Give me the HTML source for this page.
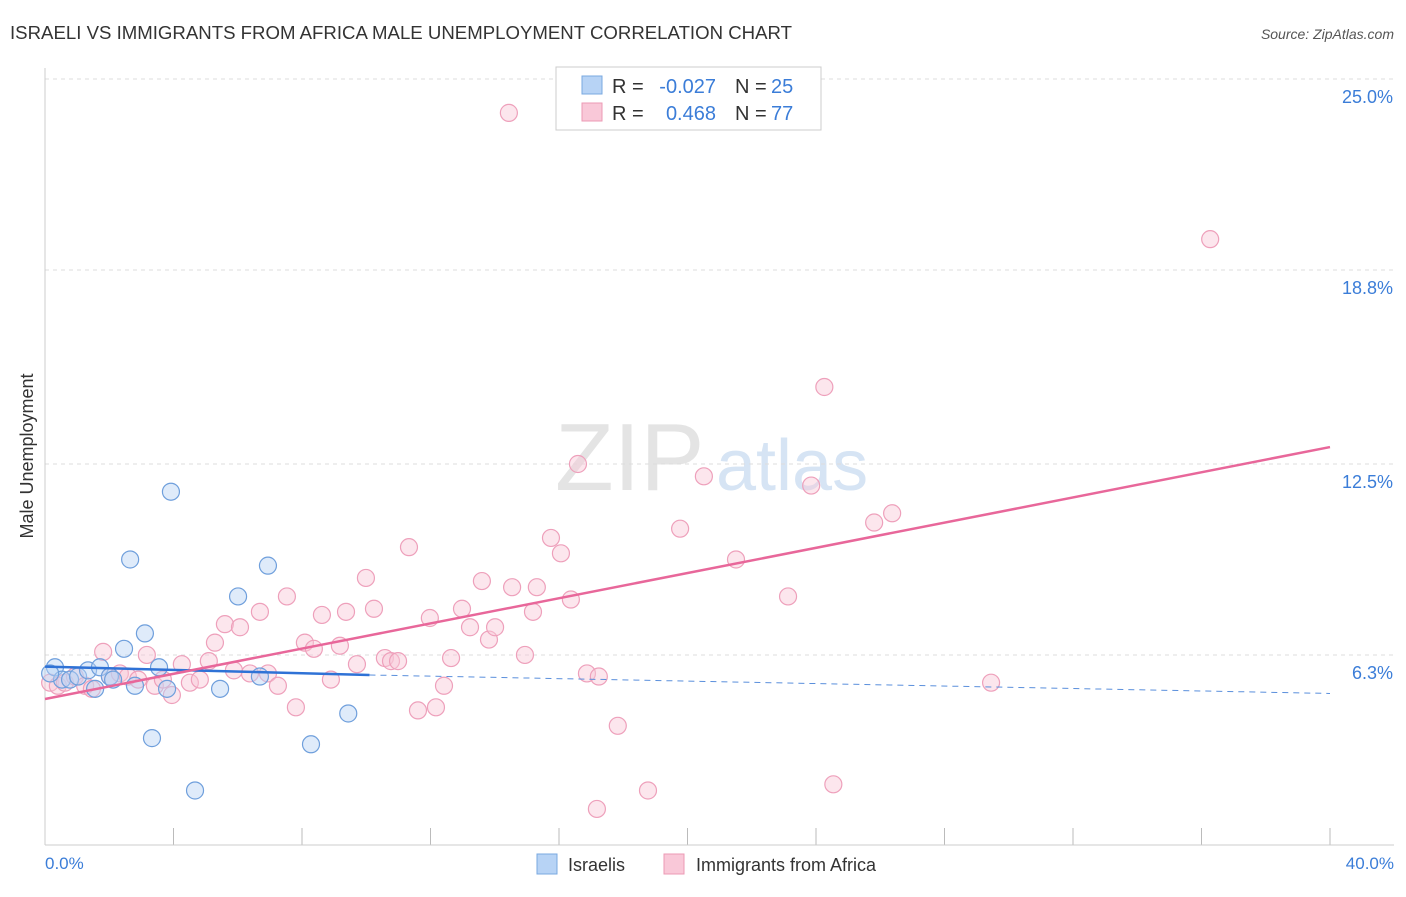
<!DOCTYPE html>
<html><head><meta charset="utf-8"><style>
body{margin:0;background:#fff;font-family:"Liberation Sans",sans-serif;}
svg text{font-family:"Liberation Sans",sans-serif;}
</style></head><body>
<svg width="1406" height="892" xmlns="http://www.w3.org/2000/svg">
<text x="10" y="39" font-size="18" fill="#333" textLength="782" lengthAdjust="spacingAndGlyphs">ISRAELI VS IMMIGRANTS FROM AFRICA MALE UNEMPLOYMENT CORRELATION CHART</text>
<text x="1394" y="39" font-size="14" fill="#555" font-style="italic" text-anchor="end">Source: ZipAtlas.com</text>
<text x="555" y="490" font-size="96" fill="#e4e4e4" font-family="Liberation Serif">ZIP</text>
<text x="716" y="490" font-size="72" fill="#d6e4f4">atlas</text>
<g id="grid"></g>
<line x1="45" y1="68" x2="45" y2="845" stroke="#ccc"/>
<line x1="45" y1="845" x2="1394" y2="845" stroke="#ccc"/>
<text x="33" y="456" font-size="18" fill="#333" text-anchor="middle" transform="rotate(-90 33 456)">Male Unemployment</text>
<text x="45" y="869" font-size="17" fill="#3b7dd8">0.0%</text>
<text x="1394" y="869" font-size="17" fill="#3b7dd8" text-anchor="end">40.0%</text>
<g id="marks"></g>
<g>
<rect x="556" y="67" width="265" height="63" fill="#fff" stroke="#ccc"/>
<rect x="582" y="76" width="20" height="18" fill="#b7d3f5" stroke="#7aa8e0"/>
<rect x="582" y="103" width="20" height="18" fill="#f9c8d8" stroke="#ec9ab4"/>
<text x="612" y="93" font-size="20" fill="#333">R =</text>
<text x="716" y="93" font-size="20" fill="#3b7dd8" text-anchor="end">-0.027</text>
<text x="735" y="93" font-size="20" fill="#333">N =</text>
<text x="771" y="93" font-size="20" fill="#3b7dd8">25</text>
<text x="612" y="120" font-size="20" fill="#333">R =</text>
<text x="716" y="120" font-size="20" fill="#3b7dd8" text-anchor="end">0.468</text>
<text x="735" y="120" font-size="20" fill="#333">N =</text>
<text x="771" y="120" font-size="20" fill="#3b7dd8">77</text>
</g>
<g>
<rect x="537" y="854" width="20" height="20" fill="#b7d3f5" stroke="#7aa8e0"/>
<text x="568" y="871" font-size="18" fill="#333">Israelis</text>
<rect x="664" y="854" width="20" height="20" fill="#f9c8d8" stroke="#ec9ab4"/>
<text x="696" y="871" font-size="18" fill="#333">Immigrants from Africa</text>
</g>
</svg>
<script>
const yTicks=[25.0,18.8,12.5,6.3];
const xTickVals=[0,4,8,12,16,20,24,28,32,36,40];
const blueX=[0.31,0.53,0.78,1.03,1.34,1.56,1.71,2.02,2.12,2.46,2.65,2.80,3.11,3.33,3.55,3.80,3.92,4.67,5.45,6.01,6.69,6.94,8.28,9.44,0.16];
const blueY=[5.9,5.5,5.5,5.6,5.8,5.2,5.9,5.6,5.5,6.5,9.4,5.3,7.0,3.6,5.9,5.2,11.6,1.9,5.2,8.2,5.6,9.2,3.4,4.4,5.7];
const pinkX=[0.16,0.40,0.62,0.93,1.25,1.46,1.81,2.02,2.33,2.58,2.90,3.17,3.42,3.67,3.95,4.26,4.51,4.82,5.10,5.29,5.60,5.88,6.07,6.38,6.69,6.94,7.25,7.53,7.81,8.09,8.37,8.62,8.90,9.18,9.37,9.71,9.99,10.24,10.58,10.77,10.99,11.33,11.61,11.98,12.17,12.42,12.64,12.98,13.23,13.60,13.82,14.01,14.44,14.54,14.94,15.19,15.31,15.75,16.06,16.37,16.59,16.87,17.24,17.83,17.18,18.77,19.77,20.51,21.51,23.13,23.85,24.26,24.54,25.81,26.37,29.45,36.27];
const pinkY=[5.4,5.3,5.4,5.6,5.3,5.2,6.4,5.6,5.7,5.6,5.5,6.3,5.3,5.5,5.0,6.0,5.4,5.5,6.1,6.7,7.3,5.8,7.2,5.7,7.7,5.7,5.3,8.2,4.6,6.7,6.5,7.6,5.5,6.6,7.7,6.0,8.8,7.8,6.2,6.1,6.1,9.8,4.5,7.5,4.6,5.3,6.2,7.8,7.2,8.7,6.8,7.2,23.9,8.5,6.3,7.7,8.5,10.1,9.6,8.1,12.5,5.7,5.6,4.0,1.3,1.9,10.4,12.1,9.4,8.2,11.8,15.0,2.1,10.6,10.9,5.4,19.8];
const blueTrend=[[0,5.92],[10.1,5.65],[40,5.05]];
const pinkTrend=[[0,4.87],[40,13.05]];
const X=v=>45+v*1285/40, Y=v=>79+(25-v)*30.8;
const NS='http://www.w3.org/2000/svg';
const grid=document.getElementById('grid'), marks=document.getElementById('marks');
function mk(tag,attrs,parent){const e=document.createElementNS(NS,tag);for(const k in attrs)e.setAttribute(k,attrs[k]);parent.appendChild(e);return e;}
yTicks.forEach(t=>{
 const l=mk('line',{x1:45,x2:1394,y1:Y(t),y2:Y(t),stroke:'#ddd','stroke-dasharray':'4,4'},grid);
 
 
 const tx=mk('text',{x:1393,y:Y(t)+24,'font-size':18,fill:'#3b7dd8','text-anchor':'end'},grid);
 tx.textContent=t.toFixed(1)+'%';
 
 
});
xTickVals.forEach(t=>{
 const l=mk('line',{x1:X(t),x2:X(t),y1:828,y2:845,stroke:'#bbb'},grid);
 
 
});
pinkX.forEach((v,i)=>{
 const c=mk('circle',{cx:X(v),cy:Y(pinkY[i]),r:8.5,fill:'rgba(249,200,216,0.45)',stroke:'#eea0bb','stroke-width':1.2},marks);
 
 
});
blueX.forEach((v,i)=>{
 const c=mk('circle',{cx:X(v),cy:Y(blueY[i]),r:8.5,fill:'rgba(183,211,245,0.45)',stroke:'#6f9fdc','stroke-width':1.2},marks);
 
 
});
const b1=mk('line',{x1:X(blueTrend[0][0]),y1:Y(blueTrend[0][1]),x2:X(blueTrend[1][0]),y2:Y(blueTrend[1][1]),stroke:'#2f72d6','stroke-width':2.5},marks);


const b2=mk('line',{x1:X(blueTrend[1][0]),y1:Y(blueTrend[1][1]),x2:X(blueTrend[2][0]),y2:Y(blueTrend[2][1]),stroke:'#5a8fdc','stroke-width':1,'stroke-dasharray':'6,5'},marks);


const p1=mk('line',{x1:X(pinkTrend[0][0]),y1:Y(pinkTrend[0][1]),x2:X(pinkTrend[1][0]),y2:Y(pinkTrend[1][1]),stroke:'#e8679a','stroke-width':2.5},marks);


</script>
</body></html>
